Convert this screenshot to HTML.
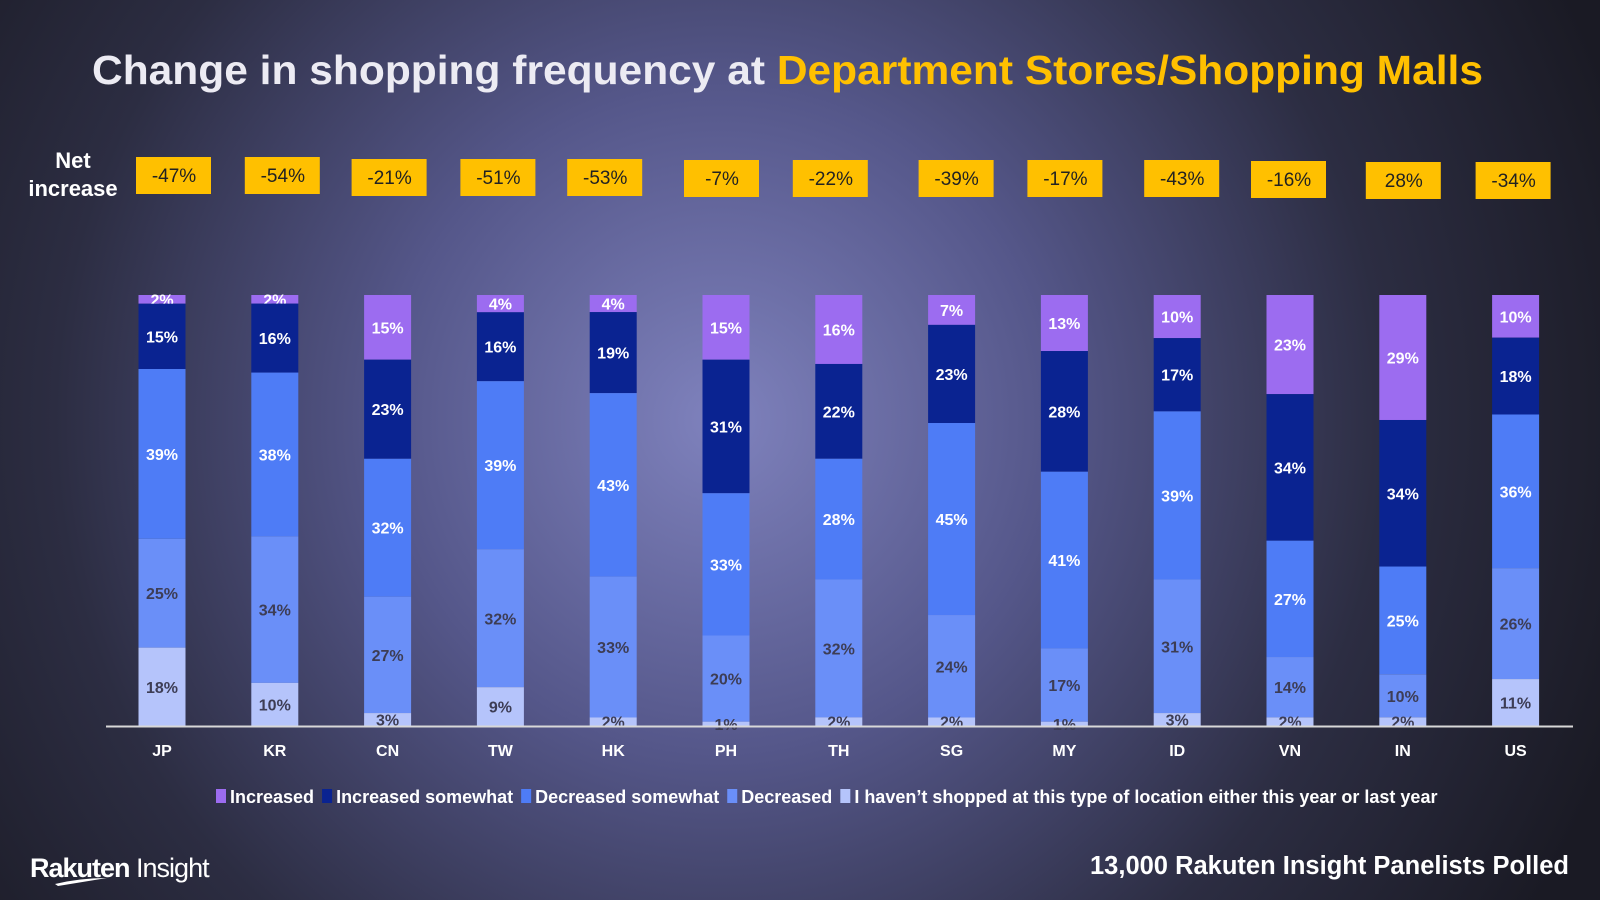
<!DOCTYPE html>
<html><head><meta charset="utf-8"><style>
html,body{margin:0;padding:0;width:1600px;height:900px;overflow:hidden;background:#1e1e2c}
svg text{font-family:"Liberation Sans",sans-serif}
</style></head><body>
<svg id="chart" width="1600" height="900" viewBox="0 0 1600 900" xmlns="http://www.w3.org/2000/svg">
<defs>
<radialGradient id="bg" cx="720" cy="420" r="950" gradientUnits="userSpaceOnUse">
<stop offset="0" stop-color="#7f82bd"/><stop offset="0.35" stop-color="#55578a"/><stop offset="0.7" stop-color="#2c2d42"/><stop offset="1" stop-color="#1a1a24"/>
</radialGradient>
</defs>
<rect width="1600" height="900" fill="url(#bg)"/>
<text x="92" y="84" font-size="41" font-weight="bold" fill="#ecebf3" textLength="1391" lengthAdjust="spacingAndGlyphs">Change in shopping frequency at <tspan fill="#ffc000">Department Stores/Shopping Malls</tspan></text>
<text x="73" y="168" font-size="22" font-weight="bold" fill="#fff" text-anchor="middle">Net</text>
<text x="73" y="196" font-size="22" font-weight="bold" fill="#fff" text-anchor="middle">increase</text>
<g id="bars"></g>
<line x1="106" y1="726.5" x2="1573" y2="726.5" stroke="#d8d8d8" stroke-width="2"/>
<g id="legend"></g>
<text x="30" y="877" font-size="27" font-weight="bold" fill="#fff" letter-spacing="-1">Rakuten<tspan font-weight="normal"> Insight</tspan></text>
<path d="M55 884 Q80 878 107 878 L58 886 Z" fill="#fff"/>
<text x="1569" y="874" font-size="25.5" font-weight="bold" fill="#fff" text-anchor="end">13,000  Rakuten Insight Panelists Polled</text>
</svg>
<script>
const categories=["JP","KR","CN","TW","HK","PH","TH","SG","MY","ID","VN","IN","US"];
const increased=[2,2,15,4,4,15,16,7,13,10,23,29,10];
const increasedSomewhat=[15,16,23,16,19,31,22,23,28,17,34,34,18];
const decreasedSomewhat=[39,38,32,39,43,33,28,45,41,39,27,25,36];
const decreased=[25,34,27,32,33,20,32,24,17,31,14,10,26];
const notShopped=[18,10,3,9,2,1,2,2,1,3,2,2,11];
const netIncrease=[-47,-54,-21,-51,-53,-7,-22,-39,-17,-43,-16,28,-34];
const seriesNames=["Increased","Increased somewhat","Decreased somewhat","Decreased","I haven\u2019t shopped at this type of location either this year or last year"];
const series=[increased,increasedSomewhat,decreasedSomewhat,decreased,notShopped];
const colors=["#9c6cf0","#0a2391","#4e7cf6","#6a8ff8","#b5c4fb"];
const labelColors=["#fff","#fff","#fff","#3d3d55","#3d3d55"];
const NS="http://www.w3.org/2000/svg";
const top0=295,base=726,bw=47;
const xScale=i=>162+i*112.8;
const boxShift=[11,7,1,-3,-9,-5,-9,4,0,4,-2,0,-3];
const boxTop=[157,157,159,159,159,160,160,160,160,160,161,162,162];
const g=document.getElementById('bars');
function mk(t,a){const e=document.createElementNS(NS,t);for(const k in a)e.setAttribute(k,a[k]);return e;}
categories.forEach((c,i)=>{
  const tot=series.reduce((s,a)=>s+a[i],0);
  const yScale=v=>v/tot*(base-top0);
  let y=top0;
  series.forEach((arr,s)=>{
    const h=yScale(arr[i]);
    const r=mk('rect',{x:xScale(i)-bw/2,y:y,width:bw,height:h,fill:colors[s]});
    
    
    g.appendChild(r);
    const t=mk('text',{x:xScale(i),y:y+h/2+6,'font-size':16,'font-weight':'bold',fill:labelColors[s],'text-anchor':'middle'});
    t.textContent=arr[i]+'%';
    
    
    g.appendChild(t);
    y+=h;
  });
  const cl=mk('text',{x:xScale(i),y:756,'font-size':16,'font-weight':'bold',fill:'#fff','text-anchor':'middle'});
  cl.textContent=c;
  
  
  g.appendChild(cl);
  const cx=xScale(i)+boxShift[i];
  const bx=mk('rect',{x:cx-37,y:boxTop[i],width:75,height:37,fill:'#ffc000'});
  
  
  g.appendChild(bx);
  const nt=mk('text',{x:cx+1,y:boxTop[i]+25,'font-size':19,fill:'#222','text-anchor':'middle'});
  nt.textContent=netIncrease[i]+'%';
  
  
  g.appendChild(nt);
});
const lg=document.getElementById('legend');
let lx=216;
seriesNames.forEach((n,s)=>{
  const sq=mk('rect',{x:lx,y:789,width:10,height:14,fill:colors[s]});
  
  
  lg.appendChild(sq);
  const t=mk('text',{x:lx+14,y:803,'font-size':18,'font-weight':'bold',fill:'#fff'});
  t.textContent=n;
  
  
  lg.appendChild(t);
  lx+=14+t.getComputedTextLength()+8;
});
</script>
</body></html>
